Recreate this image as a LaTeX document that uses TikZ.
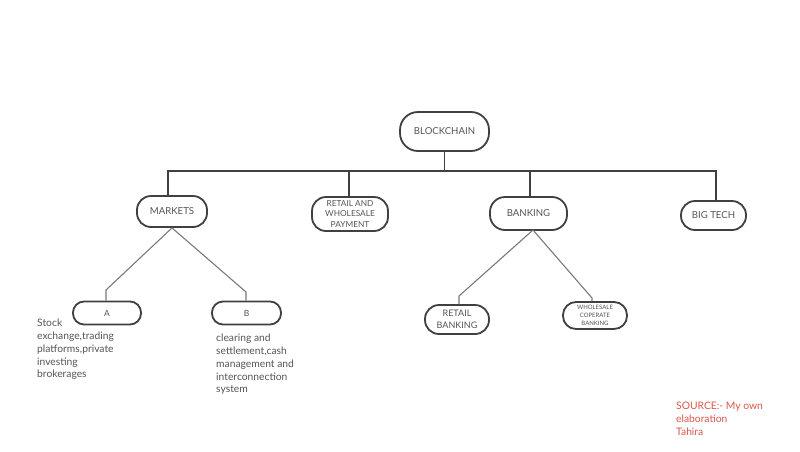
\documentclass[tikz,border=0pt]{standalone}
\usepackage{fontspec}
\setmainfont{Lato}
\definecolor{boxline}{HTML}{404040}
\definecolor{txt}{HTML}{555555}
\definecolor{srcred}{HTML}{D9564A}
\definecolor{thinline}{HTML}{7A7A7A}
\begin{document}
\begin{tikzpicture}[x=1pt,y=-1pt,
  pill/.style={draw=boxline, line width=1.8pt, rounded corners=14pt, text=txt,
    inner sep=0pt, align=center, font=\fontsize{9.6}{10}\selectfont},
  bus/.style={draw=boxline, line width=1.6pt},
  branch/.style={draw=thinline, line width=1.1pt},
  note/.style={text=txt, align=left, anchor=north west, inner sep=0pt,
    font=\fontsize{10.3}{12.8}\selectfont}]
\useasboundingbox[fill=white] (0,0) rectangle (800,451);

\node[pill, minimum width=89pt, minimum height=39pt, rounded corners=18pt] (bc) at (444.5,131.5) {BLOCKCHAIN};
\node[pill, minimum width=70pt, minimum height=31pt] (mk) at (172,211.5) {MARKETS};
\node[pill, minimum width=76pt, minimum height=34pt, font=\fontsize{8.3}{10.5}\selectfont] (rw) at (350,214) {RETAIL AND\\WHOLESALE\\PAYMENT};
\node[pill, minimum width=77pt, minimum height=33pt, rounded corners=15pt] (bk) at (528.5,213.5) {BANKING};
\node[pill, minimum width=65pt, minimum height=29pt] (bt) at (713.5,215.5) {BIG TECH};

\node[pill, minimum width=68pt, minimum height=23pt, rounded corners=11pt, font=\fontsize{8.5}{10}\selectfont] (a) at (107,313) {A};
\node[pill, minimum width=69pt, minimum height=23pt, rounded corners=11pt, font=\fontsize{8.5}{10}\selectfont] (b) at (246.5,313) {B};
\node[pill, minimum width=64pt, minimum height=29pt, font=\fontsize{9}{11.5}\selectfont] (rb) at (457,319.5) {RETAIL\\BANKING};
\node[pill, minimum width=64pt, minimum height=27pt, rounded corners=13pt, font=\fontsize{6}{8}\selectfont] (wb) at (595,315.5) {WHOLESALE\\COPERATE\\BANKING};

% bus
\coordinate (busL) at (168,171);
\coordinate (busR) at (716,171);
\coordinate (busM) at (444.5,171);
\draw[bus] (bc.south) -- (busM);
\draw[bus] (mk.north -| busL) -- (busL) -- (busR) -- (bt.north -| busR);
\coordinate (busRW) at (349,171);
\coordinate (busBK) at (530,171);
\draw[bus] (busRW) -- (rw.north -| busRW);
\draw[bus] (busBK) -- (bk.north -| busBK);

% branches
\coordinate (ka) at (106,290);
\coordinate (kb) at (246,292);
\draw[branch] (mk.south) -- (ka) -- (a.north -| ka);
\draw[branch] (mk.south) -- (kb) -- (b.north -| kb);
\coordinate (kr) at (459,296);
\coordinate (kw) at (592,298);
\coordinate (bkb) at (533,230);
\draw[branch] (bkb) -- (kr) -- (rb.north -| kr);
\draw[branch] (bkb) -- (kw) -- (wb.north -| kw);

% notes
\node[note] (na) at (37,319) {Stock\\exchange,trading\\platforms,private\\investing\\brokerages};
\node[note] (nb) at (216,334) {clearing and\\settlement,cash\\management and\\interconnection\\system};
\node[note, text=srcred] (src) at (676,402) {SOURCE:- My own\\elaboration\\Tahira};
\end{tikzpicture}
\end{document}
